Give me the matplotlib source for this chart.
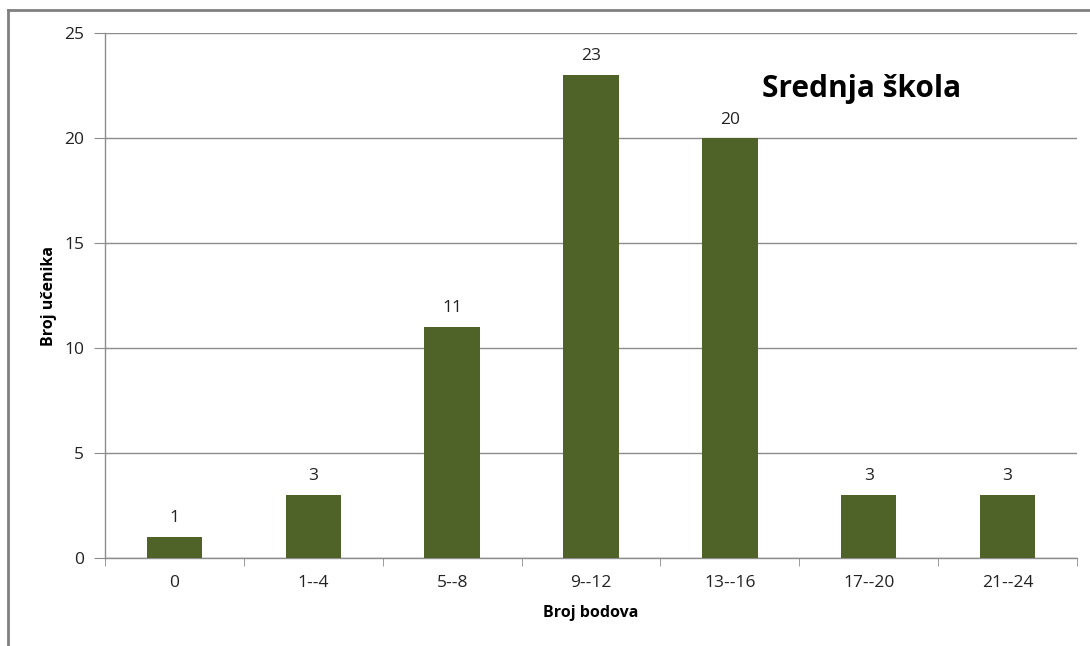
import matplotlib
matplotlib.use("Agg")
import matplotlib.pyplot as plt
from matplotlib.lines import Line2D

categories = ["0", "1--4", "5--8", "9--12", "13--16", "17--20", "21--24"]
values = [1, 3, 11, 23, 20, 3, 3]
yticks = [0, 5, 10, 15, 20, 25]

plt.rcParams['font.family'] = ['Open Sans', 'DejaVu Sans']

fig = plt.figure(figsize=(10.9, 6.46), dpi=100)
ax = fig.add_axes([105/1090, 1-558/646, (1077-105)/1090, (558-33)/646])

x = list(range(len(categories)))
bars = ax.bar(x, values, width=0.4, color="#4F6228", zorder=3)
for xi, v in zip(x, values):
    ax.text(xi, v + 0.5, str(v), ha="center", va="bottom", fontsize=12.5, color="#222222")

ax.set_xlim(-0.5, len(categories) - 0.5)
ax.set_ylim(0, 25)
ax.set_yticks(yticks)
ax.set_yticklabels([str(t) for t in yticks], fontsize=12.5, color="#222222")
ax.yaxis.grid(True, color="#8c8c8c", linewidth=1, zorder=0)
ax.set_axisbelow(True)

ax.set_xticks(x)
ax.set_xticklabels(categories, fontsize=12.5, color="#222222")
ax.tick_params(axis="x", length=0, pad=12)
ax.set_xticks([i - 0.5 for i in range(len(categories) + 1)], minor=True)
ax.tick_params(axis="x", which="minor", length=6, color="#8c8c8c", direction="out")
ax.tick_params(axis="y", length=8, color="#8c8c8c", pad=7)

for s in ["top", "right"]:
    ax.spines[s].set_visible(False)
for s in ["left", "bottom"]:
    ax.spines[s].set_color("#8c8c8c")
    ax.spines[s].set_linewidth(1)

ax.set_xlabel("Broj bodova", fontsize=11.5, fontweight="bold", labelpad=10)
ax.set_ylabel("Broj učenika", fontsize=11.5, fontweight="bold", labelpad=5)

ax.text(0.676, 0.893, "Srednja škola", transform=ax.transAxes, fontsize=21.5,
        fontweight="bold", ha="left", va="center", color="black")

fig.add_artist(Line2D([8/1090, 8/1090], [0, 1-10/646], transform=fig.transFigure, color="#808080", linewidth=2))
fig.add_artist(Line2D([8/1090, 1], [1-10/646, 1-10/646], transform=fig.transFigure, color="#808080", linewidth=2))

fig.savefig("out.png", dpi=100)
